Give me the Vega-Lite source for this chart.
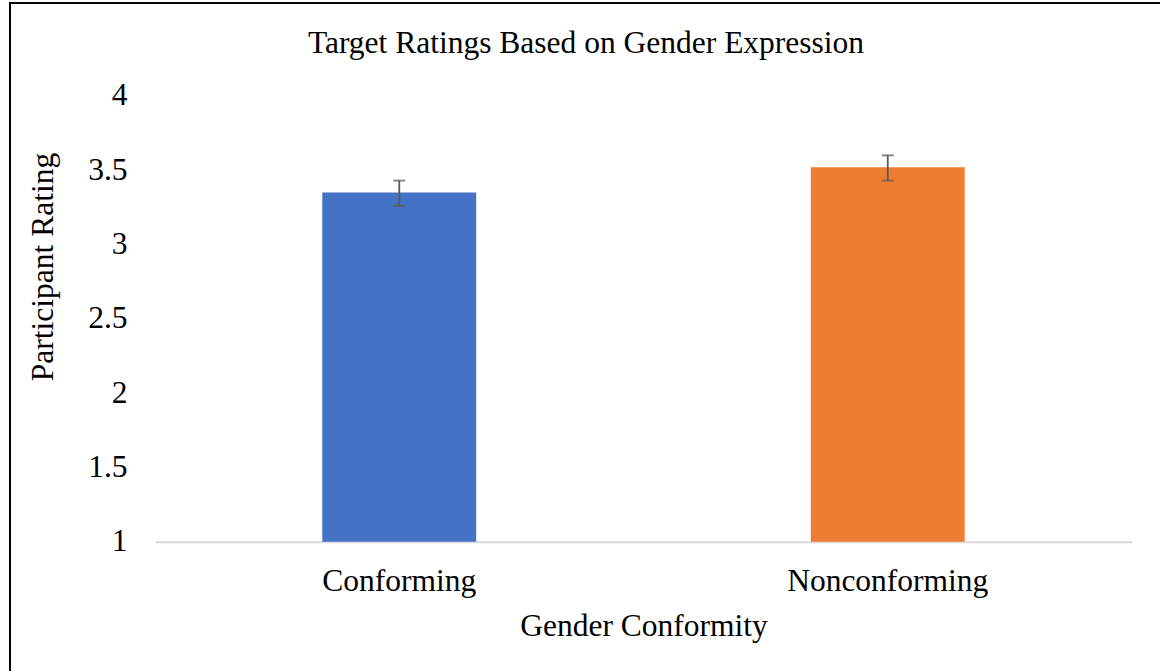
{
  "$schema": "https://vega.github.io/schema/vega-lite/v6.json",
  "autosize": {"type": "none"},
  "padding": {"left": 10, "top": 3, "right": -2, "bottom": -32},
  "width": 1152,
  "height": 700,
  "background": "#ffffff",
  "title": {
    "text": "Target Ratings Based on Gender Expression",
    "font": "Liberation Serif",
    "fontSize": 31.5,
    "fontWeight": "normal",
    "color": "#000000",
    "anchor": "middle",
    "frame": "group",
    "baseline": "alphabetic",
    "offset": -81
  },
  "data": {
    "values": [
      {"group": "Conforming", "rating": 3.35, "lower": 3.26, "upper": 3.43},
      {"group": "Nonconforming", "rating": 3.52, "lower": 3.43, "upper": 3.60}
    ]
  },
  "encoding": {
    "x": {
      "field": "group",
      "type": "nominal",
      "sort": ["Conforming", "Nonconforming"],
      "scale": {"range": [145, 1122], "paddingInner": 0, "paddingOuter": 0},
      "axis": {
        "orient": "bottom",
        "offset": -161.3,
        "title": "Gender Conformity",
        "titleFont": "Liberation Serif",
        "titleFontSize": 31.5,
        "titleFontWeight": "normal",
        "titleColor": "#000000",
        "titleBaseline": "alphabetic",
        "titleY": 93.3,
        "labelFont": "Liberation Serif",
        "labelFontSize": 31.5,
        "labelColor": "#000000",
        "labelAngle": 0,
        "labelBaseline": "alphabetic",
        "labelPadding": 48.3,
        "labelLimit": 600,
        "ticks": false,
        "tickSize": 0,
        "domain": true,
        "domainColor": "#D9D9D9",
        "domainWidth": 2,
        "grid": false
      }
    }
  },
  "layer": [
    {
      "mark": {"type": "bar", "width": {"band": 0.315}},
      "encoding": {
        "y": {
          "field": "rating",
          "type": "quantitative",
          "scale": {"domain": [1, 4], "range": [538.7, 92.9], "nice": false, "zero": false},
          "axis": {
            "orient": "left",
            "offset": -117,
            "values": [1, 1.5, 2, 2.5, 3, 3.5, 4],
            "format": "~g",
            "title": "Participant Rating",
            "titleFont": "Liberation Serif",
            "titleFontSize": 31.5,
            "titleFontWeight": "normal",
            "titleColor": "#000000",
            "titleAngle": 270,
            "titleAlign": "center",
            "titleBaseline": "alphabetic",
            "titleX": -75,
            "titleY": 263.5,
            "labelFont": "Liberation Serif",
            "labelFontSize": 31.5,
            "labelColor": "#000000",
            "labelAlign": "right",
            "labelBaseline": "middle",
            "labelPadding": 0,
            "ticks": false,
            "tickSize": 0,
            "domain": false,
            "grid": false
          }
        },
        "y2": {"datum": 1},
        "color": {
          "field": "group",
          "type": "nominal",
          "scale": {"domain": ["Conforming", "Nonconforming"], "range": ["#4472C4", "#ED7D31"]},
          "legend": null
        }
      }
    },
    {
      "mark": {"type": "rule", "color": "#595959", "strokeWidth": 1.8},
      "encoding": {
        "y": {"field": "lower", "type": "quantitative"},
        "y2": {"field": "upper"}
      }
    },
    {
      "mark": {"type": "tick", "color": "#595959", "size": 12, "thickness": 2},
      "encoding": {
        "y": {"field": "lower", "type": "quantitative"}
      }
    },
    {
      "mark": {"type": "tick", "color": "#595959", "size": 12, "thickness": 2},
      "encoding": {
        "y": {"field": "upper", "type": "quantitative"}
      }
    }
  ],
  "config": {
    "view": {"stroke": "#000000", "strokeWidth": 2},
    "font": "Liberation Serif"
  }
}
